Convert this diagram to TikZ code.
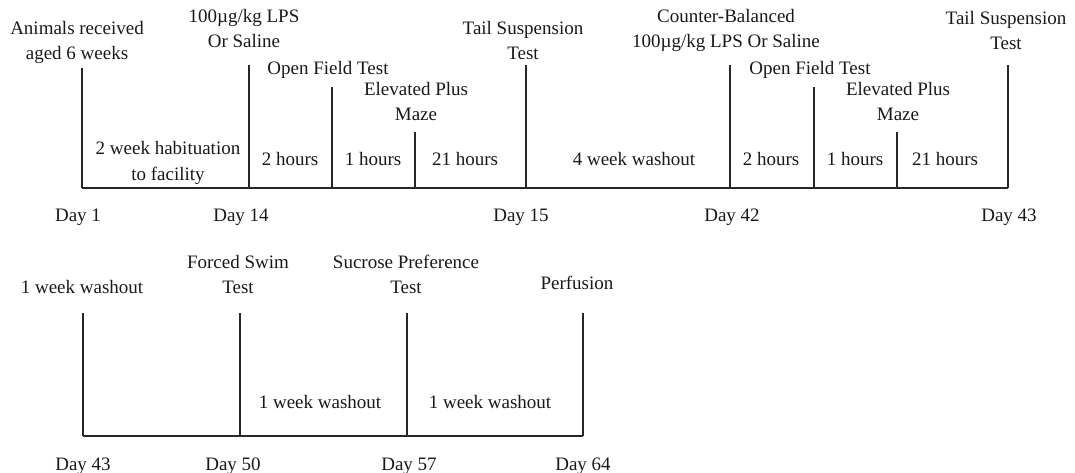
\documentclass[tikz,border=0pt]{standalone}
\usepackage{fontspec}
\setmainfont{Liberation Serif}
\begin{document}
\begin{tikzpicture}[x=1pt,y=-1pt,
  lbl/.style={anchor=base, inner sep=0pt, align=center, font=\fontsize{19}{25}\selectfont, text=black!90},
  axis/.style={draw=black!85, line width=1.3pt}]
\useasboundingbox (0,0) rectangle (1075,473);
% ---------- top timeline ----------
\coordinate (a1) at (82,188);  \coordinate (a1t) at (82,68);
\coordinate (a2) at (249,188); \coordinate (a2t) at (249,65);
\coordinate (a3) at (332,188); \coordinate (a3t) at (332,87);
\coordinate (a4) at (415,188); \coordinate (a4t) at (415,132);
\coordinate (a5) at (526,188); \coordinate (a5t) at (526,65);
\coordinate (a6) at (730,188); \coordinate (a6t) at (730,65);
\coordinate (a7) at (814,188); \coordinate (a7t) at (814,87);
\coordinate (a8) at (897,188); \coordinate (a8t) at (897,132);
\coordinate (a9) at (1008,188); \coordinate (a9t) at (1008,65);
\draw[axis] (a1) -- (a9);
\foreach \i in {1,...,9} {\draw[axis] (a\i) -- (a\i t);}
% event labels (multi-line nodes: base = baseline of last line)
\node[lbl] (e1) at (77,60) {Animals received\\aged 6 weeks};
\node[lbl] (e2) at (244,48) {100µg/kg LPS\\Or Saline};
\node[lbl] (e3) at (328,75) {Open Field Test};
\node[lbl] (e4) at (416,121) {Elevated Plus\\Maze};
\node[lbl] (e5) at (523,60) {Tail Suspension\\Test};
\node[lbl] (e6) at (726,48) {Counter-Balanced\\100µg/kg LPS Or Saline};
\node[lbl] (e7) at (810,75) {Open Field Test};
\node[lbl] (e8) at (898,121) {Elevated Plus\\Maze};
\node[lbl] (e9) at (1006,50) {Tail Suspension\\Test};
% interval labels
\node[lbl] (s1) at (168,180) {2 week habituation\\to facility};
\node[lbl] (s2) at (290,165) {2 hours};
\node[lbl] (s3) at (373,165) {1 hours};
\node[lbl] (s4) at (465,165) {21 hours};
\node[lbl] (s5) at (634,165) {4 week washout};
\node[lbl] (s6) at (771,165) {2 hours};
\node[lbl] (s7) at (855,165) {1 hours};
\node[lbl] (s8) at (945,165) {21 hours};
% days
\node[lbl] (d1) at (78,221) {Day 1};
\node[lbl] (d2) at (241,221) {Day 14};
\node[lbl] (d3) at (521,221) {Day 15};
\node[lbl] (d4) at (732,221) {Day 42};
\node[lbl] (d5) at (1009,221) {Day 43};
% ---------- bottom timeline ----------
\coordinate (b1) at (83,436);  \coordinate (b1t) at (83,313);
\coordinate (b2) at (240,436); \coordinate (b2t) at (240,313);
\coordinate (b3) at (407,436); \coordinate (b3t) at (407,313);
\coordinate (b4) at (583,436); \coordinate (b4t) at (583,313);
\draw[axis] (b1) -- (b4);
\foreach \i in {1,...,4} {\draw[axis] (b\i) -- (b\i t);}
\node[lbl] (f1) at (82,293) {1 week washout};
\node[lbl] (f2) at (238,293) {Forced Swim\\Test};
\node[lbl] (f3) at (406,293) {Sucrose Preference\\Test};
\node[lbl] (f4) at (577,289) {Perfusion};
\node[lbl] (g1) at (320,408) {1 week washout};
\node[lbl] (g2) at (490,408) {1 week washout};
\node[lbl] (h1) at (83,470) {Day 43};
\node[lbl] (h2) at (233,470) {Day 50};
\node[lbl] (h3) at (409,470) {Day 57};
\node[lbl] (h4) at (583,470) {Day 64};
\end{tikzpicture}
\end{document}
